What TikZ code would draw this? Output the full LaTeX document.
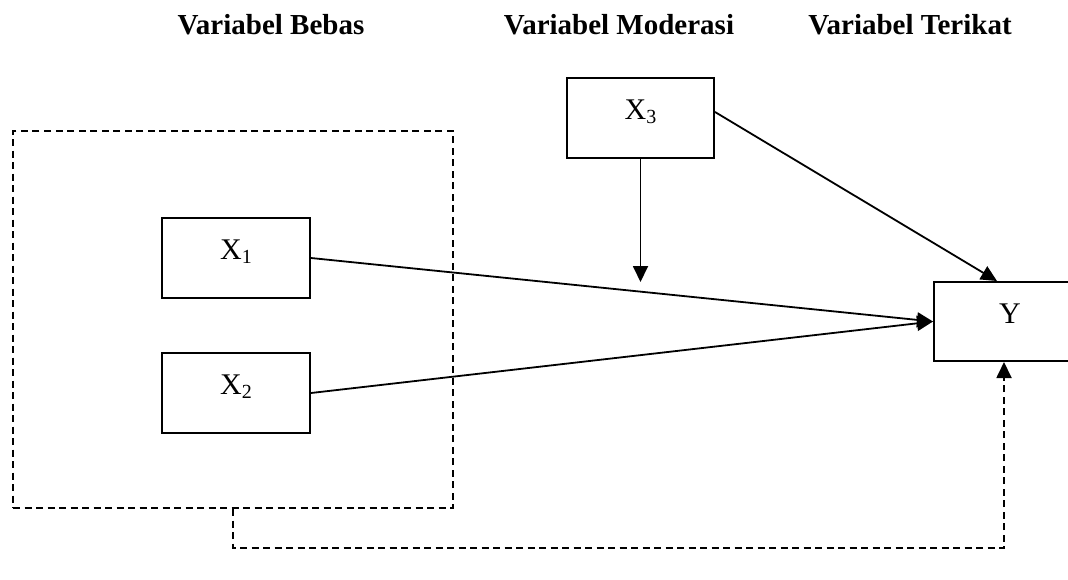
\documentclass[tikz,border=0pt]{standalone}
\usepackage{fontspec}
\setmainfont{Liberation Serif}
\usetikzlibrary{arrows.meta,calc}
\begin{document}
\begin{tikzpicture}[x=1pt,y=-1pt,
  head/.style={anchor=base,font=\fontsize{29}{31}\selectfont\bfseries,inner sep=0pt},
  varbox/.style={draw,line width=2pt,inner sep=0pt,text height=21pt,text depth=18pt,
    font=\fontsize{30}{32}\selectfont},
  grpbox/.style={draw,line width=2pt,dash pattern=on 7pt off 4.5pt,inner sep=0pt},
  conn/.style={line width=1.8pt,-{Triangle[length=16pt,width=15pt]}},
  dconn/.style={conn,dash pattern=on 7pt off 4.5pt}
]
\useasboundingbox (0,0) rectangle (1068,579);
\newcommand{\sub}[1]{\raisebox{-4pt}{\fontsize{20}{21}\selectfont #1}}
\node[head] (hB) at (271,34) {Variabel Bebas};
\node[head] (hM) at (619,34) {Variabel Moderasi};
\node[head] (hT) at (910,34) {Variabel Terikat};

\node[grpbox,minimum width=440pt,minimum height=377pt] (grp) at (233,319.5) {};
\node[varbox,minimum width=147pt,minimum height=80pt] (x3) at (640.5,118) {X\sub{3}};
\node[varbox,minimum width=148pt,minimum height=80pt] (x1) at (236,258) {X\sub{1}};
\node[varbox,minimum width=148pt,minimum height=80pt] (x2) at (236,393) {X\sub{2}};
\node[varbox,minimum width=152pt,minimum height=79pt] (y) at (1010,321.5) {Y};

\path (x3.south) ++(0,123) coordinate (m);
\draw[conn] (x3.south) -- (m);
\draw[conn] (x1.east) -- (y.west);
\draw[conn] (x2.east) -- (y.west);
\draw[conn] ([yshift=6pt]x3.east) -- ([xshift=-13pt]y.north);
\coordinate (turn) at ($(grp.south)+(0,39)$);
\draw[dconn] (grp.south) -- (turn) -| ([xshift=-6pt]y.south);
\end{tikzpicture}
\end{document}
